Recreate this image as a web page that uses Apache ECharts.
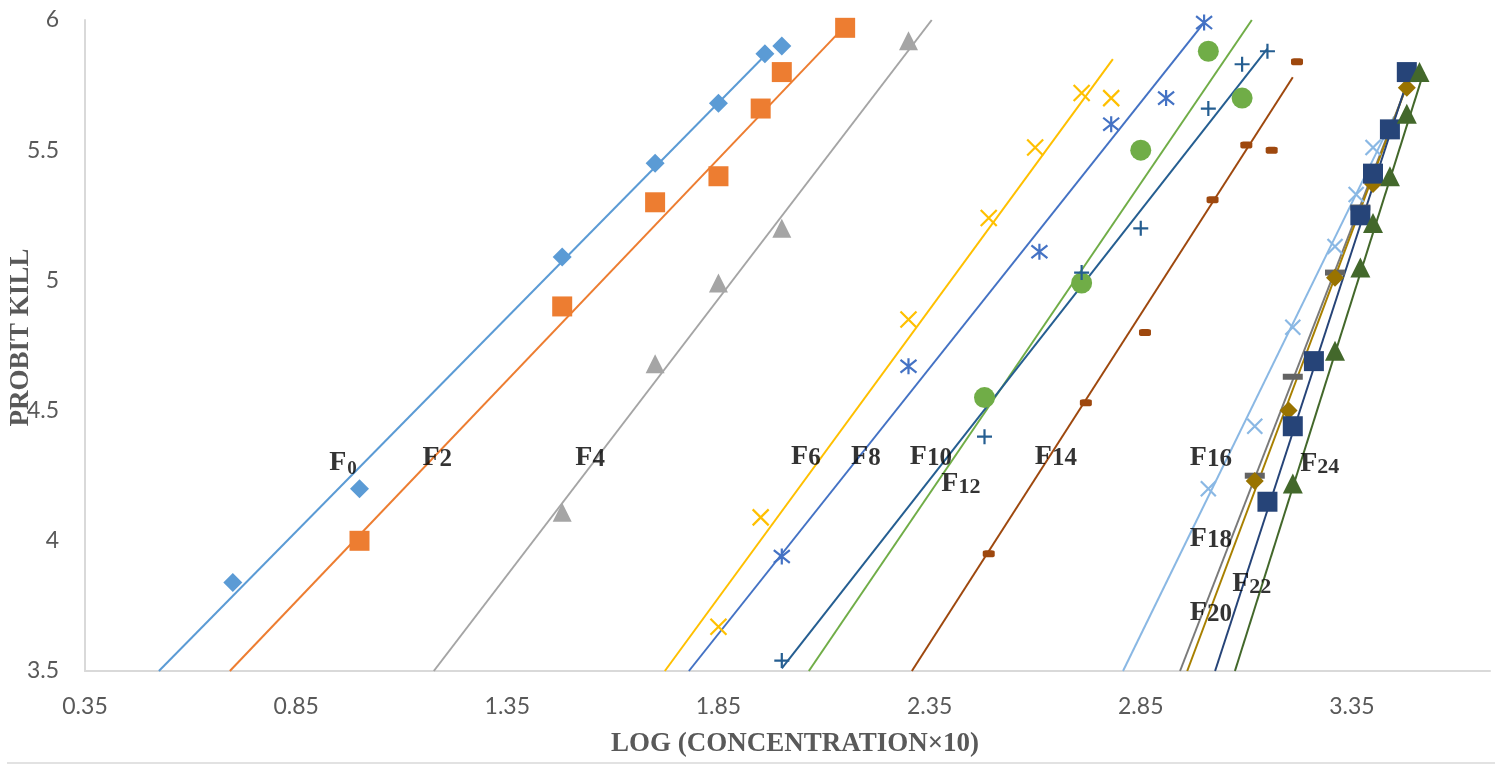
<!DOCTYPE html>
<html>
<head>
<meta charset="utf-8">
<script src="https://cdn.jsdelivr.net/npm/echarts@6/dist/echarts.min.js"></script>
<style>
  html, body { margin: 0; padding: 0; background: #fff; }
  #chart { width: 1495px; height: 764px; }
</style>
</head>
<body>
<div id="chart"></div>
<script>
// Probit kill against log(concentration x 10), one group per fraction F0..F24.
// Observed points (x = log conc, y = probit) and fitted trend-line end points.
const xF0 = [0.70, 1.00, 1.48, 1.70, 1.85, 1.96, 2.00];
const yF0 = [3.84, 4.20, 5.09, 5.45, 5.68, 5.87, 5.90];
const trendF0 = [[0.525, 3.5], [1.97, 5.88]];

const xF2 = [1.00, 1.48, 1.70, 1.85, 1.95, 2.00, 2.15];
const yF2 = [4.00, 4.90, 5.30, 5.40, 5.66, 5.80, 5.97];
const trendF2 = [[0.693, 3.5], [2.14, 5.96]];

const xF4 = [1.48, 1.70, 1.85, 2.00, 2.30];
const yF4 = [4.11, 4.68, 4.99, 5.20, 5.92];
const trendF4 = [[1.176, 3.5], [2.355, 6.0]];

const xF6 = [1.85, 1.95, 2.30, 2.49, 2.60, 2.71, 2.78];
const yF6 = [3.67, 4.09, 4.85, 5.24, 5.51, 5.72, 5.70];
const trendF6 = [[1.723, 3.5], [2.784, 5.85]];

const xF8 = [2.00, 2.30, 2.61, 2.78, 2.91, 3.00];
const yF8 = [3.94, 4.67, 5.11, 5.60, 5.70, 5.99];
const trendF8 = [[1.780, 3.5], [3.00, 5.99]];

const xF10 = [2.48, 2.71, 2.85, 3.01, 3.09];
const yF10 = [4.55, 4.99, 5.50, 5.88, 5.70];
const trendF10 = [[2.064, 3.5], [3.113, 6.0]];

const xF12 = [2.00, 2.48, 2.71, 2.85, 3.01, 3.09, 3.15];
const yF12 = [3.54, 4.40, 5.03, 5.20, 5.66, 5.83, 5.88];
const trendF12 = [[2.00, 3.51], [3.15, 5.89]];

const xF14 = [2.49, 2.72, 2.86, 3.02, 3.10, 3.16, 3.22];
const yF14 = [3.95, 4.53, 4.80, 5.31, 5.52, 5.50, 5.84];
const trendF14 = [[2.308, 3.5], [3.21, 5.78]];

const xF16 = [3.01, 3.12, 3.21, 3.31, 3.36, 3.40];
const yF16 = [4.20, 4.44, 4.82, 5.13, 5.33, 5.51];
const trendF16 = [[2.808, 3.5], [3.45, 5.63]];

const xF18 = [3.12, 3.21, 3.31, 3.37];
const yF18 = [4.25, 4.63, 5.03, 5.28];
const trendF18 = [[2.943, 3.5], [3.49, 5.79]];

const xF20 = [3.12, 3.20, 3.31, 3.40, 3.48];
const yF20 = [4.23, 4.50, 5.01, 5.37, 5.74];
const trendF20 = [[2.960, 3.5], [3.485, 5.77]];

const xF22 = [3.15, 3.21, 3.26, 3.37, 3.40, 3.44, 3.48];
const yF22 = [4.15, 4.44, 4.69, 5.25, 5.41, 5.58, 5.80];
const trendF22 = [[3.026, 3.5], [3.49, 5.81]];

const xF24 = [3.21, 3.31, 3.37, 3.40, 3.44, 3.48, 3.51];
const yF24 = [4.22, 4.73, 5.05, 5.22, 5.40, 5.64, 5.80];
const trendF24 = [[3.073, 3.5], [3.52, 5.80]];

const groupNames = ['F0', 'F2', 'F4', 'F6', 'F8', 'F10', 'F12', 'F14', 'F16', 'F18', 'F20', 'F22', 'F24'];
const groupX = [xF0, xF2, xF4, xF6, xF8, xF10, xF12, xF14, xF16, xF18, xF20, xF22, xF24];
const groupY = [yF0, yF2, yF4, yF6, yF8, yF10, yF12, yF14, yF16, yF18, yF20, yF22, yF24];
const groupTrend = [trendF0, trendF2, trendF4, trendF6, trendF8, trendF10, trendF12,
                    trendF14, trendF16, trendF18, trendF20, trendF22, trendF24];

const xTicks = [0.35, 0.85, 1.35, 1.85, 2.35, 2.85, 3.35];
const yTicks = [3.5, 4, 4.5, 5, 5.5, 6];

// ---- marker styling -------------------------------------------------------
const X_PATH = 'path://M0,0L10,10M10,0L0,10';
const STAR_PATH = 'path://M1,1L9,9M9,1L1,9M5,0L5,10';
const PLUS_PATH = 'path://M5,0L5,10M0,5L10,5';

const filled = (c) => ({ color: c, opacity: 1 });
const stroked = (c) => ({ color: 'rgba(0,0,0,0)', borderColor: c, borderWidth: 2.2, opacity: 1 });

const groupStyle = [
  { line: '#5B9BD5', symbol: 'diamond',  size: 19,       item: filled('#5B9BD5') },
  { line: '#ED7D31', symbol: 'rect',     size: 20,       item: filled('#ED7D31') },
  { line: '#A5A5A5', symbol: 'triangle', size: 19,       item: filled('#A5A5A5') },
  { line: '#FFC000', symbol: X_PATH,     size: 16,       item: stroked('#FFC000') },
  { line: '#4472C4', symbol: STAR_PATH,  size: 16,       item: stroked('#4472C4') },
  { line: '#70AD47', symbol: 'circle',   size: 21,       item: filled('#70AD47') },
  { line: '#255E91', symbol: PLUS_PATH,  size: 15,       item: stroked('#255E91') },
  { line: '#9E480E', symbol: 'roundRect',size: [12, 7],  item: filled('#9E480E') },
  { line: '#8AB8E4', symbol: X_PATH,     size: 15,       item: stroked('#8AB8E4') },
  { line: '#7A7A7A', symbol: 'rect',     size: [20, 6],  item: filled('#636363') },
  { line: '#A88000', symbol: 'diamond',  size: 18,       item: filled('#997300') },
  { line: '#264478', symbol: 'rect',     size: 20,       item: filled('#264478') },
  { line: '#43682B', symbol: 'triangle', size: 20,       item: filled('#43682B') }
];

// ---- group name tags, anchored in data space --------------------------------
const tagAnchors = [
  [0.961, 4.300], [1.184, 4.318], [1.546, 4.318], [2.057, 4.322], [2.199, 4.322],
  [2.353, 4.322], [2.424, 4.218], [2.649, 4.322], [3.016, 4.318], [3.016, 4.007],
  [3.016, 3.723], [3.113, 3.834], [3.274, 4.295]
];
const tagKind = ['sub', 'n', 'n', 'n', 'n', 'n', 's', 'n', 'n', 'n', 'n', 's', 's'];

const tagFont = { fontFamily: 'Liberation Serif', fontWeight: 'bold', color: '#000' };
const tagRich = {
  f:   Object.assign({ fontSize: 28, lineHeight: 28, verticalAlign: 'top' }, tagFont),
  n:   Object.assign({ fontSize: 25, lineHeight: 25, verticalAlign: 'top', padding: [3, 0, 0, 0] }, tagFont),
  s:   Object.assign({ fontSize: 22, lineHeight: 22, verticalAlign: 'top', padding: [6, 0, 0, 0] }, tagFont),
  sub: Object.assign({ fontSize: 19, lineHeight: 19, verticalAlign: 'top', padding: [11, 0, 0, 1] }, tagFont)
};

const series = [];
groupNames.forEach((name, i) => {
  const st = groupStyle[i];
  series.push({
    name: name + ' trend',
    type: 'line',
    data: groupTrend[i],
    symbol: 'none',
    silent: true,
    z: 2,
    lineStyle: { color: st.line, width: 2 }
  });
  series.push({
    name: name,
    type: 'scatter',
    data: groupX[i].map((v, k) => [v, groupY[i][k]]),
    symbol: st.symbol,
    symbolSize: st.size,
    itemStyle: st.item,
    silent: true,
    z: 3
  });
});

series.push({
  name: 'tags',
  type: 'scatter',
  silent: true,
  symbolSize: 0,
  z: 5,
  data: groupNames.map((name, i) => ({
    value: tagAnchors[i],
    label: {
      show: true,
      position: 'inside',
      formatter: '{f|F}{' + tagKind[i] + '|' + name.slice(1) + '}',
      rich: tagRich
    }
  }))
});

const chart = echarts.init(document.getElementById('chart'), null, { renderer: 'canvas' });
chart.setOption({
  animation: false,
  backgroundColor: '#ffffff',
  grid: { left: 85, right: 5, top: 20, bottom: 93, containLabel: false, outerBoundsMode: 'none' },
  xAxis: {
    type: 'value',
    min: xTicks[0],
    max: 3.677,
    interval: 0.5,
    name: 'LOG (CONCENTRATION\u00D710)',
    nameLocation: 'middle',
    nameGap: 60,
    nameTextStyle: {
      fontFamily: 'Liberation Serif', fontWeight: 'bold', fontSize: 27, color: '#595959',
      padding: [0, 0, 0, 15]
    },
    axisLine: { show: true, lineStyle: { color: '#D9D9D9', width: 2 } },
    axisTick: { show: false },
    splitLine: { show: false },
    axisLabel: {
      showMaxLabel: false,
      margin: 24,
      fontFamily: 'Lato', fontSize: 23, color: '#595959',
      formatter: (v) => {
        const hit = xTicks.find((t) => Math.abs(t - v) < 1e-6);
        return hit === undefined ? '' : hit.toFixed(2);
      }
    }
  },
  yAxis: {
    type: 'value',
    min: yTicks[0],
    max: yTicks[yTicks.length - 1],
    interval: 0.5,
    name: 'PROBIT KILL',
    nameLocation: 'middle',
    nameGap: 50,
    nameMoveOverlap: false,
    nameTextStyle: {
      fontFamily: 'Liberation Serif', fontWeight: 'bold', fontSize: 27, color: '#595959',
      padding: [0, 0, 0, 16]
    },
    axisLine: { show: true, lineStyle: { color: '#D9D9D9', width: 2 } },
    axisTick: { show: false },
    splitLine: { show: false },
    axisLabel: {
      margin: 26,
      fontFamily: 'Lato', fontSize: 23, color: '#595959',
      formatter: (v) => String(+v.toFixed(2))
    }
  },
  graphic: [{
    type: 'line',
    silent: true,
    shape: { x1: 7, y1: 763, x2: 1495, y2: 763 },
    style: { stroke: '#D9D9D9', lineWidth: 1.5 }
  }],
  series: series
});
</script>
</body>
</html>
